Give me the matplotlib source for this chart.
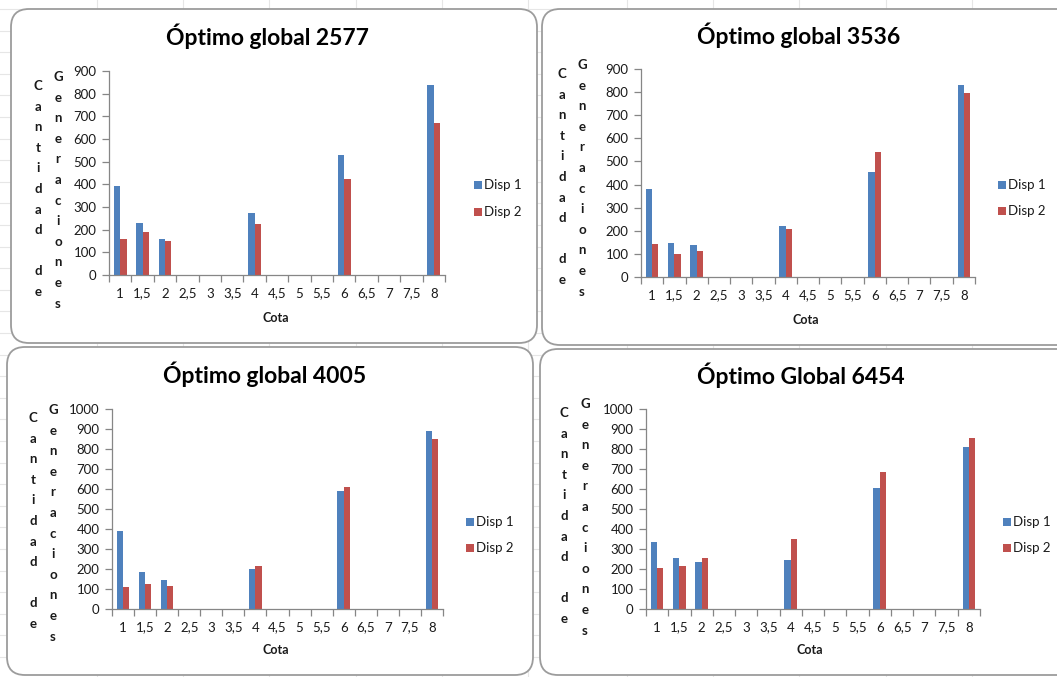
import matplotlib
matplotlib.use("Agg")
import matplotlib.pyplot as plt
from matplotlib.patches import FancyBboxPatch
from matplotlib.transforms import IdentityTransform
import numpy as np

plt.rcParams['font.family'] = ['Lato', 'DejaVu Sans']

# Categories on the x axis (Cota)
cotas = ["1", "1,5", "2", "2,5", "3", "3,5", "4", "4,5", "5", "5,5",
         "6", "6,5", "7", "7,5", "8"]

# Generations per cota for each dispersion setting
disp1_2577 = [393, 230, 161, 0, 0, 0, 273, 0, 0, 0, 531, 0, 0, 0, 837]
disp2_2577 = [161, 188, 151, 0, 0, 0, 224, 0, 0, 0, 425, 0, 0, 0, 669]

disp1_3536 = [379, 149, 139, 0, 0, 0, 221, 0, 0, 0, 456, 0, 0, 0, 832]
disp2_3536 = [143, 101, 113, 0, 0, 0, 207, 0, 0, 0, 540, 0, 0, 0, 796]

disp1_4005 = [390, 187, 145, 0, 0, 0, 198, 0, 0, 0, 588, 0, 0, 0, 890]
disp2_4005 = [108, 127, 115, 0, 0, 0, 217, 0, 0, 0, 608, 0, 0, 0, 848]

disp1_6454 = [333, 254, 236, 0, 0, 0, 247, 0, 0, 0, 604, 0, 0, 0, 808]
disp2_6454 = [204, 217, 254, 0, 0, 0, 350, 0, 0, 0, 687, 0, 0, 0, 856]

titles = ["Óptimo global 2577", "Óptimo global 3536",
          "Óptimo global 4005", "Óptimo Global 6454"]
series_labels = ["Disp 1", "Disp 2"]
ylabel_col1 = "Cantidad de"
ylabel_col2 = "Generaciones"
xlabel = "Cota"

BLUE = "#4F81BD"
RED = "#C0504D"
AXIS = "#868686"

W, H = 1057, 677
fig = plt.figure(figsize=(W / 100, H / 100), dpi=100)
fig.patch.set_facecolor("white")


def fx(x):
    return x / W


def fy(y):
    return 1 - y / H


# faint spreadsheet cell grid behind the chart panels
for gx in [97, 183, 269, 356, 442, 528, 627, 713, 799, 886, 972]:
    fig.add_artist(plt.Line2D([fx(gx), fx(gx)], [0, 1], transform=fig.transFigure,
                              color="#e6e6e6", lw=0.8, zorder=-3))
for gy in np.arange(9, H, 21.6):
    fig.add_artist(plt.Line2D([0, 1], [fy(gy), fy(gy)], transform=fig.transFigure,
                              color="#e6e6e6", lw=0.8, zorder=-3))

panels = [
    # left, top, right, bottom (pixels)
    dict(box=(11, 9, 537, 343), ax=(109, 71, 445, 275), ymax=900,
         title=(267, 36), leg=(474, 185, 212), lab1=(38, 86), lab2=(58, 77),
         xl=(276, 318), d1=disp1_2577, d2=disp2_2577),
    dict(box=(542, 9, 1075, 345), ax=(641, 69, 975, 277), ymax=900,
         title=(799, 35), leg=(998, 185, 211), lab1=(562, 74), lab2=(582, 65),
         xl=(806, 320), d1=disp1_3536, d2=disp2_3536),
    dict(box=(7, 347, 533, 675), ax=(112, 409, 443, 609), ymax=1000,
         title=(265, 374), leg=(466, 522, 548), lab1=(33, 418), lab2=(53, 410),
         xl=(276, 650), d1=disp1_4005, d2=disp2_4005),
    dict(box=(540, 349, 1075, 675), ax=(646, 409, 980, 609), ymax=1000,
         title=(801, 375), leg=(1003, 522, 548), lab1=(564, 413), lab2=(585, 404),
         xl=(810, 650), d1=disp1_6454, d2=disp2_6454),
]

x = np.arange(len(cotas))
bw = 1 / 3.5

for p, title in zip(panels, titles):
    l, t, r, b = p["box"]
    box = FancyBboxPatch((l, H - b), r - l, b - t,
                         boxstyle="round,pad=0,rounding_size=18",
                         transform=IdentityTransform(), facecolor="white",
                         edgecolor="#9c9c9c", lw=1.3, zorder=-1)
    fig.add_artist(box)

    al, at, ar, ab = p["ax"]
    ax = fig.add_axes([fx(al), fy(ab), (ar - al) / W, (ab - at) / H])
    ax.patch.set_alpha(0)
    ax.bar(x - bw / 2, p["d1"], bw, color=BLUE, zorder=2)
    ax.bar(x + bw / 2, p["d2"], bw, color=RED, zorder=2)
    ax.set_xlim(-0.5, len(cotas) - 0.5)
    ax.set_ylim(0, p["ymax"])
    ax.set_yticks(np.arange(0, p["ymax"] + 1, 100))
    ax.set_xticks(x)
    ax.set_xticklabels(cotas)
    ax.set_xticks(np.arange(-0.5, len(cotas), 1), minor=True)
    ax.tick_params(axis="x", which="major", length=0, pad=9, labelsize=9.5,
                   labelcolor="#1a1a1a")
    ax.tick_params(axis="x", which="minor", length=5, width=0.9, color=AXIS,
                   direction="out")
    ax.tick_params(axis="y", which="major", length=5, width=0.9, color=AXIS,
                   direction="out", labelsize=9.5, labelcolor="#1a1a1a", pad=4)
    for s in ["top", "right"]:
        ax.spines[s].set_visible(False)
    for s in ["left", "bottom"]:
        ax.spines[s].set_color(AXIS)
        ax.spines[s].set_linewidth(0.9)

    tx, ty = p["title"]
    fig.text(fx(tx), fy(ty), title, ha="center", va="center",
             fontsize=16.5, fontweight="bold", color="black")

    xlx, xly = p["xl"]
    fig.text(fx(xlx), fy(xly), xlabel, ha="center", va="center",
             fontsize=9, fontweight="bold", color="#1a1a1a")

    # stacked vertical axis title, one letter per row
    for (cx, cy), word in [(p["lab1"], ylabel_col1), (p["lab2"], ylabel_col2)]:
        for i, ch in enumerate(word):
            if ch == " ":
                continue
            fig.text(fx(cx), fy(cy + i * 20.6), ch, ha="center", va="center",
                     fontsize=9.5, fontweight="bold", color="#1a1a1a")

    lx, ly1, ly2 = p["leg"]
    for ly, col, lab in [(ly1, BLUE, series_labels[0]), (ly2, RED, series_labels[1])]:
        fig.add_artist(plt.Rectangle((lx, H - ly - 4), 8, 8,
                                     transform=IdentityTransform(),
                                     facecolor=col, edgecolor="none"))
        fig.text(fx(lx + 10), fy(ly), lab, ha="left", va="center",
                 fontsize=9.5, color="#1a1a1a")

fig.savefig("out.png", dpi=100, facecolor="white")
